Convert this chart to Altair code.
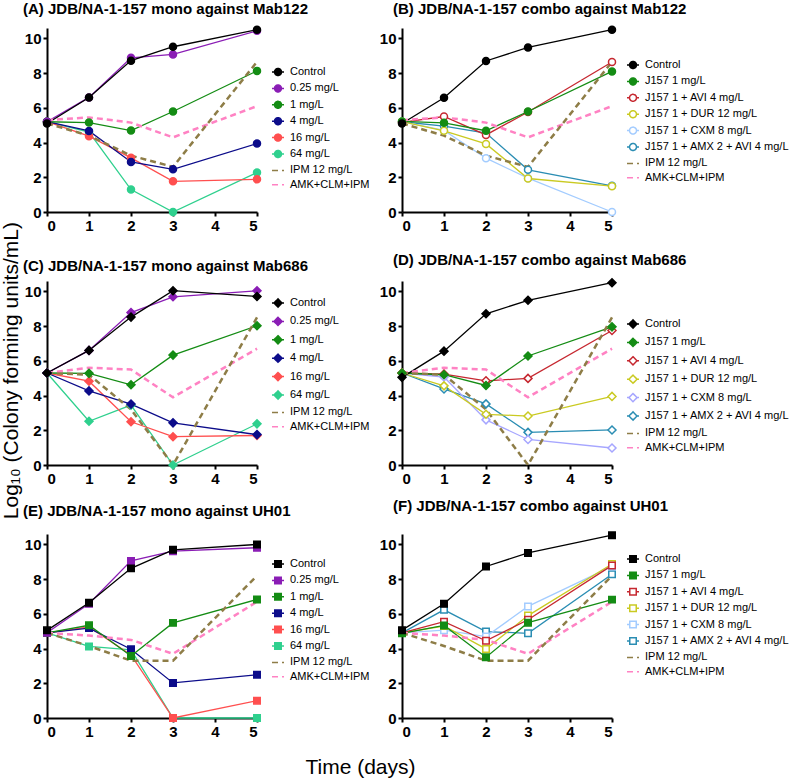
import altair as alt
import pandas as pd

FONT = "Liberation Sans"
DAYS = [0, 1, 2, 3, 5]

MONO_SERIES = ["Control", "0.25 mg/L", "1 mg/L", "4 mg/L", "16 mg/L", "64 mg/L",
               "IPM 12 mg/L", "AMK+CLM+IPM"]
COMBO_SERIES = ["Control", "J157 1 mg/L", "J157 1 + AVI 4 mg/L", "J157 1 + DUR 12 mg/L",
                "J157 1 + CXM 8 mg/L", "J157 1 + AMX 2 + AVI 4 mg/L",
                "IPM 12 mg/L", "AMK+CLM+IPM"]
DASHED = ["IPM 12 mg/L", "AMK+CLM+IPM"]

# (A) mono against Mab122
A_CONTROL = [5.10, 6.60, 8.72, 9.52, 10.50]
A_025 = [5.20, 6.60, 8.88, 9.08, 10.44]
A_1 = [5.20, 5.15, 4.69, 5.79, 8.13]
A_4 = [5.20, 4.67, 2.88, 2.46, 3.94]
A_16 = [5.20, 4.37, 3.12, 1.77, 1.88]
A_64 = [5.20, 4.60, 1.29, 0.00, 2.27]
MAB122_IPM = [5.10, 4.40, 3.25, 2.60, 8.65]
MAB122_AMK = [5.30, 5.45, 5.15, 4.30, 6.10]

# (B) combo against Mab122
B_CONTROL = [5.10, 6.58, 8.70, 9.48, 10.50]
B_J157 = [5.22, 5.14, 4.68, 5.79, 8.10]
B_AVI = [5.16, 5.50, 4.44, 5.76, 8.64]
B_DUR = [5.20, 4.68, 3.92, 1.93, 1.49]
B_CXM = [5.20, 4.70, 3.10, 1.95, 0.00]
B_AMX = [5.20, 4.95, 4.55, 2.43, 1.51]

# (C) mono against Mab686
C_CONTROL = [5.30, 6.60, 8.52, 10.04, 9.71]
C_025 = [5.30, 6.60, 8.78, 9.69, 10.04]
C_1 = [5.30, 5.28, 4.62, 6.33, 8.02]
C_4 = [5.30, 4.27, 3.51, 2.43, 1.75]
C_16 = [5.30, 4.83, 2.49, 1.63, 1.70]
C_64 = [5.30, 2.52, 3.45, 0.00, 2.37]
MAB686_IPM = [5.30, 5.20, 3.20, 0.00, 8.50]
MAB686_AMK = [5.30, 5.60, 5.50, 3.90, 6.70]

# (D) combo against Mab686
D_CONTROL = [5.05, 6.56, 8.71, 9.49, 10.50]
D_J157 = [5.30, 5.20, 4.58, 6.28, 7.96]
D_AVI = [5.30, 5.24, 4.85, 4.99, 7.75]
D_DUR = [5.30, 4.56, 2.92, 2.82, 3.95]
D_CXM = [5.30, 5.07, 2.60, 1.47, 0.98]
D_AMX = [5.30, 4.38, 3.52, 1.88, 2.02]

# (E) mono against UH01
E_CONTROL = [5.05, 6.64, 8.62, 9.69, 10.00]
E_025 = [4.91, 6.58, 9.05, 9.61, 9.81]
E_1 = [4.90, 5.34, 3.57, 5.48, 6.83]
E_4 = [4.90, 5.18, 3.96, 2.02, 2.49]
E_16 = [4.90, 5.24, 3.63, 0.00, 1.00]
E_64 = [4.90, 4.12, 3.92, 0.00, 0.00]
UH01_IPM = [4.90, 4.15, 3.30, 3.30, 8.20]
UH01_AMK = [4.90, 4.75, 4.50, 3.70, 6.70]

# (F) combo against UH01
F_CONTROL = [5.06, 6.58, 8.73, 9.51, 10.53]
F_J157 = [4.88, 5.33, 3.50, 5.49, 6.82]
F_AVI = [4.90, 5.55, 4.45, 5.66, 8.79]
F_DUR = [4.90, 5.30, 3.98, 5.90, 8.87]
F_CXM = [4.90, 5.06, 4.69, 6.43, 8.73]
F_AMX = [4.90, 6.23, 4.98, 4.88, 8.28]

IPM_COLOR = "#8E7D47"
AMK_COLOR = "#FF82C3"
MONO_COLORS = ["#000000", "#8A1DB5", "#148C14", "#0C0C8A", "#FF4F4F", "#2FD08E",
               IPM_COLOR, AMK_COLOR]
MONO_FILLS = MONO_COLORS[:6] + ["transparent", "transparent"]
COMBO_COLORS = ["#000000", "#148C14", "#C62830", "#CACA22", "#A3CCFF", "#2A8DB3",
                IPM_COLOR, AMK_COLOR]
COMBO_COLORS_D = ["#000000", "#148C14", "#C62830", "#CACA22", "#A6A6FF", "#2A8DB3",
                  IPM_COLOR, AMK_COLOR]
COMBO_FILLS = ["#000000", "#148C14", "white", "white", "white", "white",
               "transparent", "transparent"]

# plot marker name, marker area, key glyph (marker with short line stubs)
MARKERS = {
    "circle": ("circle", 49,
               "M-1,0H-0.58M0.58,0H1M-0.58,0A0.58,0.58,0,1,1,0.58,0A0.58,0.58,0,1,1,-0.58,0Z"),
    "diamond": ("diamond", 64,
                "M-1,0H-0.68M0.68,0H1M-0.68,0L0,-0.68L0.68,0L0,0.68Z"),
    "square": ("square", 42,
               "M-1,0H-0.54M0.54,0H1M-0.54,-0.54H0.54V0.54H-0.54Z"),
}
DASH_GLYPH = "M-1,0H1"

W, H = 210, 184
LEG_X = 224

AXIS = dict(domainColor="black", domainWidth=2, tickColor="black", tickWidth=2,
            tickSize=4, labelFont=FONT, labelFontSize=15, labelFontWeight="bold",
            labelColor="black", labelPadding=2, grid=False, title=None)


def panel(title, series, columns, colors, fills, marker, legend_y, title_dx, title_offset):
    recs = []
    for rank in reversed(range(len(series))):
        for d, v in zip(DAYS, columns[rank]):
            recs.append({"day": d, "value": v, "series": series[rank]})
    df = pd.DataFrame(recs)
    solid = [s for s in series if s not in DASHED]
    shape_name, size, glyph = MARKERS[marker]

    color_scale = alt.Scale(domain=series, range=colors)
    fill_scale = alt.Scale(domain=series, range=fills)
    dash_scale = alt.Scale(domain=series,
                           range=[[6, 4] if s in DASHED else [1, 0] for s in series])
    shape_scale = alt.Scale(domain=series,
                            range=[DASH_GLYPH if s in DASHED else glyph for s in series])

    x = alt.X("day:Q", scale=alt.Scale(domain=[0, 5], nice=False, zero=False),
              axis=alt.Axis(values=[0, 1, 2, 3, 4, 5], **AXIS))
    y = alt.Y("value:Q", scale=alt.Scale(domain=[0, 10.6], nice=False),
              axis=alt.Axis(values=[0, 2, 4, 6, 8, 10], **AXIS))

    legend = alt.Legend(title=None, orient="none", legendX=LEG_X, legendY=legend_y,
                        labelFont=FONT, labelFontSize=11, labelColor="black",
                        labelOffset=5, symbolSize=144, symbolStrokeWidth=1.5,
                        symbolFillColor="white", symbolStrokeColor="black",
                        symbolOpacity=1, rowPadding=2.4, padding=0, symbolLimit=0)

    base = alt.Chart(df)
    # key entries only: no rows drawn, the key comes from the fixed domains
    key = base.transform_filter("false").mark_point(strokeWidth=1.5, opacity=1).encode(
        x=x, y=y,
        color=alt.Color("series:N", scale=color_scale, legend=legend),
        fill=alt.Fill("series:N", scale=fill_scale, legend=legend),
        shape=alt.Shape("series:N", scale=shape_scale, legend=legend),
        strokeDash=alt.StrokeDash("series:N", scale=dash_scale, legend=legend))
    lines = base.transform_filter(
        alt.FieldOneOfPredicate(field="series", oneOf=solid)
    ).mark_line(strokeWidth=1.3).encode(
        x=x, y=y, color=alt.Color("series:N", scale=color_scale, legend=None))
    dashed = base.transform_filter(
        alt.FieldOneOfPredicate(field="series", oneOf=DASHED)
    ).mark_line(strokeWidth=2.5).encode(
        x=x, y=y, color=alt.Color("series:N", scale=color_scale, legend=None),
        strokeDash=alt.StrokeDash("series:N", scale=dash_scale, legend=None))
    points = base.transform_filter(
        alt.FieldOneOfPredicate(field="series", oneOf=solid)
    ).mark_point(shape=shape_name, size=size, strokeWidth=1.5, opacity=1).encode(
        x=x, y=y, color=alt.Color("series:N", scale=color_scale, legend=None),
        fill=alt.Fill("series:N", scale=fill_scale, legend=None))

    return alt.layer(key, lines, dashed, points).properties(
        width=W, height=H,
        title=alt.TitleParams(title, anchor="start", frame="group", dx=title_dx,
                              fontSize=15, fontWeight="bold", font=FONT,
                              color="black", offset=title_offset))


pA = panel("(A) JDB/NA-1-157 mono against Mab122", MONO_SERIES,
           [A_CONTROL, A_025, A_1, A_4, A_16, A_64, MAB122_IPM, MAB122_AMK],
           MONO_COLORS, MONO_FILLS, "circle", 37, -24, 6)
pB = panel("(B) JDB/NA-1-157 combo against Mab122", COMBO_SERIES,
           [B_CONTROL, B_J157, B_AVI, B_DUR, B_CXM, B_AMX, MAB122_IPM, MAB122_AMK],
           COMBO_COLORS, COMBO_FILLS, "circle", 30, -9, 6)
pC = panel("(C) JDB/NA-1-157 mono against Mab686", MONO_SERIES,
           [C_CONTROL, C_025, C_1, C_4, C_16, C_64, MAB686_IPM, MAB686_AMK],
           MONO_COLORS, MONO_FILLS, "diamond", 15, -24, 7.5)
pD = panel("(D) JDB/NA-1-157 combo against Mab686", COMBO_SERIES,
           [D_CONTROL, D_J157, D_AVI, D_DUR, D_CXM, D_AMX, MAB686_IPM, MAB686_AMK],
           COMBO_COLORS_D, COMBO_FILLS, "diamond", 36, -9, 7.5)
pE = panel("(E) JDB/NA-1-157 mono against UH01", MONO_SERIES,
           [E_CONTROL, E_025, E_1, E_4, E_16, E_64, UH01_IPM, UH01_AMK],
           MONO_COLORS, MONO_FILLS, "square", 23, -24, 15)
pF = panel("(F) JDB/NA-1-157 combo against UH01", COMBO_SERIES,
           [F_CONTROL, F_J157, F_AVI, F_DUR, F_CXM, F_AMX, UH01_IPM, UH01_AMK],
           COMBO_COLORS, COMBO_FILLS, "square", 18, -9, 15)

INDEP = dict(color="independent", fill="independent", shape="independent",
             strokeDash="independent")


def row(left, right):
    return alt.hconcat(left, right, spacing=145, bounds="flush").resolve_scale(**INDEP)


lower = alt.vconcat(row(pC, pD), row(pE, pF), spacing=12).resolve_scale(**INDEP)

grid = alt.vconcat(row(pA, pB), lower, spacing=20).resolve_scale(**INDEP).properties(
    title=alt.TitleParams("Log\u2081\u2080 (Colony forming units/mL)", orient="left",
                          anchor="middle", fontSize=21, fontWeight="normal",
                          font=FONT, color="black", offset=1))

chart = alt.vconcat(grid).resolve_scale(**INDEP).properties(
    title=alt.TitleParams("Time (days)", orient="bottom", anchor="middle",
                          fontSize=21, fontWeight="normal", font=FONT,
                          color="black", offset=18, dx=-35),
    padding={"left": 0, "top": 2, "right": 0, "bottom": 0},
).configure_view(stroke=None)

chart.save("out.html", embed_options={"renderer": "svg", "actions": False})
